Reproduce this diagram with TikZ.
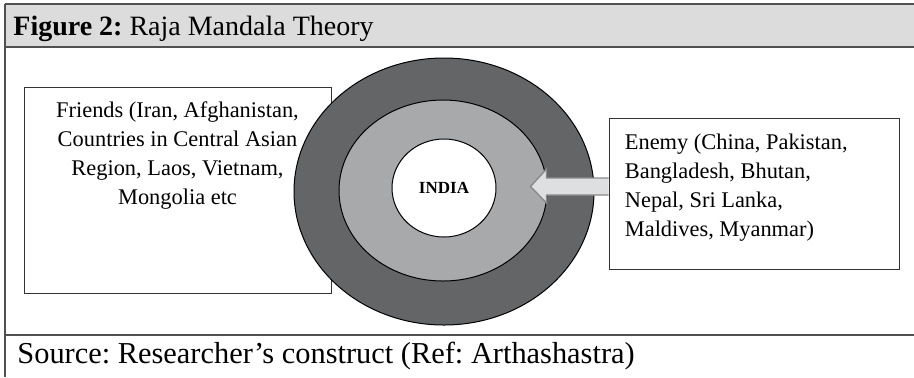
\documentclass[tikz,border=0pt]{standalone}
\usepackage{fontspec}
\setmainfont{Liberation Serif}
\usetikzlibrary{shapes.geometric, positioning}
\frenchspacing

\definecolor{ringdark}{HTML}{646567}
\definecolor{ringlight}{HTML}{A8A9AB}
\definecolor{headgray}{HTML}{DCDCDC}
\definecolor{framegray}{HTML}{505050}
\definecolor{arrowfill}{HTML}{DEDFE1}
\definecolor{arrowline}{HTML}{8A8A8A}

\begin{document}
\begin{tikzpicture}[
    x=0.5pt, y=-0.5pt,
    ring/.style={ellipse, draw=black, line width=0.5pt, inner sep=0pt},
    panel/.style={rectangle, draw=black!80, line width=0.5pt, fill=white},
    listtext/.style={inner sep=0pt, font=\fontsize{11.2}{14.5}\selectfont},
    rule/.style={draw=framegray, line width=0.8pt},
    blockarrow/.style={fill=arrowfill, draw=arrowline, line width=0.7pt, line join=miter}
  ]
    \useasboundingbox (0,0) rectangle (914,377);

    % Title bar and frame
    \fill[headgray] (5,4) rectangle (914,47);
    \draw[rule, line width=1.1pt] (5,4) -- (914,4);
    \draw[rule] (5,47) -- (914,47);
    \draw[rule] (5,4) -- (5,377);
    \draw[rule] (5,335) -- (914,335);
    \node[anchor=base west, inner sep=0pt, font=\fontsize{14}{16}\selectfont] (title) at (13,35) {\textbf{Figure 2:} Raja Mandala Theory};
    \node[anchor=base west, inner sep=0pt, font=\fontsize{15.2}{17}\selectfont] (source) at (17,363) {Source: Researcher's construct (Ref: Arthashastra)};

    % Friends
    \node[panel, minimum width=153.5pt, minimum height=103pt] (friends) at (177.5,190) {};

    % Rings of the mandala
    \node[ring, fill=ringdark, minimum width=150pt, minimum height=133.5pt] (outer) at (444,191.5) {};
    \node[ring, fill=ringlight, minimum width=104pt, minimum height=90.5pt] (middle) at (443,190.5) {};
    \node[ring, fill=white, minimum width=52pt, minimum height=49pt, font=\bfseries\fontsize{8.5}{10}\selectfont] (india) at (444,188) {INDIA};

    \node[listtext, align=center, below=7.5pt of friends.north] (friendstext) {Friends (Iran, Afghanistan,\\ Countries in Central Asian\\ Region, Laos, Vietnam,\\ Mongolia etc};

    % Enemy
    \node[panel, minimum width=145pt, minimum height=75.5pt] (enemy) at (754,193.5) {};
    \node[listtext, align=left, below right=8pt and 8pt of enemy.north west] (enemytext) {Enemy (China, Pakistan,\\ Bangladesh, Bhutan,\\ Nepal, Sri Lanka,\\ Maldives, Myanmar)};
    \filldraw[blockarrow, shift={(enemy.west)}] (0,-15.5) -- (-62,-15.5) -- (-62,-24.5) -- (-78,-7) -- (-62,9.5) -- (-62,1.5) -- (0,1.5);

  \end{tikzpicture}
\end{document}
